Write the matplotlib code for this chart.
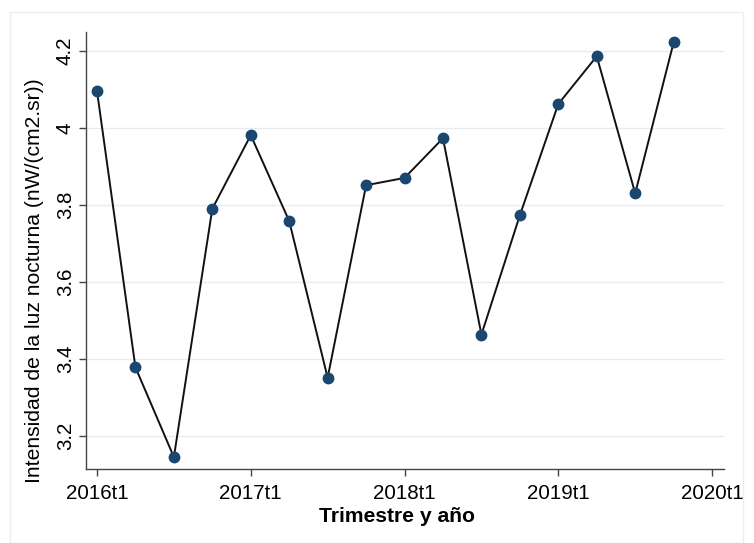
import matplotlib
matplotlib.use("Agg")
import matplotlib.pyplot as plt
from matplotlib.patches import Rectangle

plt.rcParams['font.family'] = ['Liberation Sans', 'DejaVu Sans']

quarters = ['2016t1', '2016t2', '2016t3', '2016t4',
            '2017t1', '2017t2', '2017t3', '2017t4',
            '2018t1', '2018t2', '2018t3', '2018t4',
            '2019t1', '2019t2', '2019t3', '2019t4']
values = [4.096, 3.378, 3.145, 3.790,
          3.981, 3.758, 3.351, 3.851,
          3.870, 3.973, 3.463, 3.773,
          4.062, 4.186, 3.830, 4.222]
xtick_labels = ['2016t1', '2017t1', '2018t1', '2019t1', '2020t1']
ytick_values = [3.2, 3.4, 3.6, 3.8, 4.0, 4.2]
ytick_labels = ['3.2', '3.4', '3.6', '3.8', '4', '4.2']

W, H = 754, 543
fig = plt.figure(figsize=(W / 100, H / 100), dpi=100)
fig.patch.set_facecolor('white')
fig.patches.append(Rectangle((9.5 / W, 0), (743 - 9.5) / W, 1 - 12 / H,
                             transform=fig.transFigure, fill=False,
                             edgecolor='#eceff1', linewidth=1.0))

ax = fig.add_axes([86 / W, 1 - 469 / H, (724 - 86) / W, (469 - 32) / H])
x = list(range(len(quarters)))
ax.plot(x, values, color='#111111', linewidth=1.4, zorder=3)
ax.plot(x, values, linestyle='none', marker='o', markersize=7.5,
        color='#1a476f', zorder=4)

ax.set_xlim(-0.286, 16.31)
ax.set_ylim(3.114, 4.249)
ax.set_xticks([0, 4, 8, 12, 16])
ax.set_xticklabels(xtick_labels, fontsize=14.8)
ax.set_yticks(ytick_values)
ax.set_yticklabels(ytick_labels, fontsize=14.8, rotation=90, va='center')
ax.grid(axis='y', color='#e6edf2', linewidth=1.0)
ax.set_axisbelow(True)
for s in ['top', 'right']:
    ax.spines[s].set_visible(False)
for s in ['left', 'bottom']:
    ax.spines[s].set_color('#444444')
    ax.spines[s].set_linewidth(1.0)
ax.tick_params(axis='both', direction='out', length=5, width=1.0, color='#444444')
ax.tick_params(axis='x', pad=6)
ax.tick_params(axis='y', pad=3)

ax.set_ylabel('Intensidad de la luz nocturna (nW/(cm2.sr))', fontsize=15.2, va='center')
ax.yaxis.set_label_coords((35 - 86) / 638, (469 - 281) / 437)
ax.set_xlabel('Trimestre y año', fontsize=15.2, fontweight='bold', va='center')
ax.xaxis.set_label_coords((397 - 86) / 638, -(516 - 469) / 437)

fig.savefig('out.png', dpi=100)
